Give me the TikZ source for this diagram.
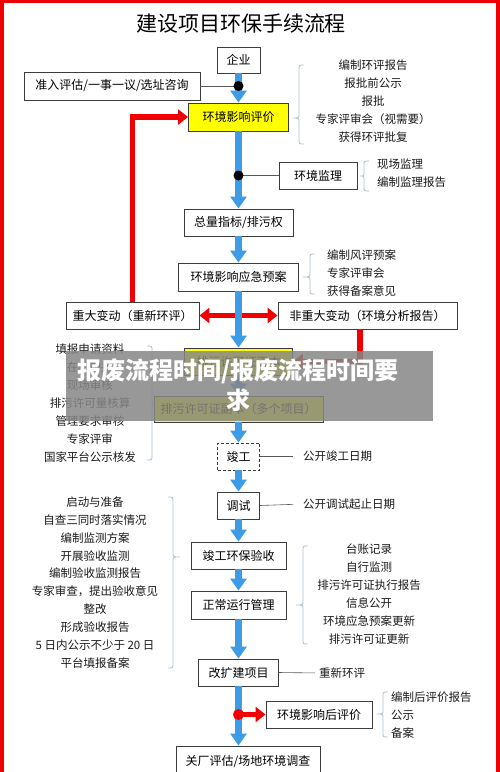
\documentclass[tikz,border=0pt]{standalone}
\usepackage{fontspec}
\newfontfamily\cjk{Noto Sans CJK SC}
\usetikzlibrary{arrows.meta}
\definecolor{flowblue}{RGB}{62,155,230}
\definecolor{flowred}{RGB}{240,0,0}
\definecolor{boxyellow}{RGB}{255,255,0}
\definecolor{bracegray}{RGB}{170,192,208}
\definecolor{boxedge}{RGB}{60,60,60}
\definecolor{bannergray}{RGB}{135,135,135}
\newcommand\openbrace[5]{%
 \draw[brc] ({#1+5},#2) .. controls (#1,#2) .. (#1,{#2+5}) -- (#1,{#4-5}) .. controls (#1,#4) .. (#5,#4) .. controls (#1,#4) .. (#1,{#4+5}) -- (#1,{#3-5}) .. controls (#1,#3) .. ({#1+5},#3);}
\newcommand\closebrace[5]{%
 \draw[brc] ({#1-5},#2) .. controls (#1,#2) .. (#1,{#2+5}) -- (#1,{#4-5}) .. controls (#1,#4) .. (#5,#4) .. controls (#1,#4) .. (#1,{#4+5}) -- (#1,{#3-5}) .. controls (#1,#3) .. ({#1-5},#3);}
\begin{document}
\begin{tikzpicture}[x=1pt,y=-1pt,
 box/.style={draw=boxedge, line width=0.9pt, fill=white, inner sep=0pt, font=\cjk\fontsize{12}{14}\selectfont, text=black},
 ybox/.style={box, fill=boxyellow},
 flow/.style={draw=flowblue, line width=7pt, -{Triangle[width=16pt,length=12pt]}},
 redflow/.style={draw=flowred, line width=5.5pt, -{Triangle[width=15pt,length=10pt]}},
 redboth/.style={draw=flowred, line width=5.5pt, {Triangle[width=15pt,length=10pt]}-{Triangle[width=15pt,length=10pt]}},
 link/.style={draw=black!65, line width=0.6pt},
 dot/.style={circle, fill=black, inner sep=0pt, minimum size=10pt},
 reddot/.style={circle, fill=flowred, inner sep=0pt, minimum size=11pt},
 listtxt/.style={font=\cjk\fontsize{11.5}{17.9}\selectfont, inner sep=0pt, text=black!90},
 brc/.style={draw=bracegray, line width=0.8pt}]
\useasboundingbox (0,0) rectangle (500,772);
\fill[white] (0,0) rectangle (500,772);
% frame
\fill[flowred] (0,0) rectangle (4,772);
\fill[flowred] (0,0) rectangle (500,3);
\fill[flowred] (496,0) rectangle (500,772);
% title
\node[font=\cjk\fontsize{21}{24}\selectfont] (title) at (241,24) {建设项目环保手续流程};
% boxes
\node[box, minimum width=43pt, minimum height=26pt] (qy) at (238.5,60) {企业};
\node[box, minimum width=176pt, minimum height=28pt] (zr) at (112,86) {准入评估/一事一议/选址咨询};
\node[ybox, minimum width=100pt, minimum height=28pt] (hp) at (238.5,117) {环境影响评价};
\node[box, minimum width=78pt, minimum height=27pt] (jl) at (318,175.5) {环境监理};
\node[box, minimum width=109pt, minimum height=27pt] (zl) at (238.5,222.5) {总量指标/排污权};
\node[box, minimum width=120pt, minimum height=28pt] (yj) at (238.5,277) {环境影响应急预案};
\node[box, minimum width=133pt, minimum height=27pt] (zd) at (132.5,315.5) {重大变动（重新环评）};
\node[box, minimum width=179pt, minimum height=27pt] (fz) at (367.5,315.5) {非重大变动（环境分析报告）};
\node[ybox, minimum width=108pt, minimum height=27pt] (zb) at (238.5,361.5) {排污许可证正本};
\node[ybox, minimum width=169pt, minimum height=26pt] (fb) at (238.5,409) {排污许可证副本（多个项目）};
\node[box, dash pattern=on 3pt off 2pt, minimum width=42pt, minimum height=27pt] (jg) at (238.5,456.5) {竣工};
\node[box, minimum width=42pt, minimum height=27pt] (ts) at (238.5,505.5) {调试};
\node[box, minimum width=95pt, minimum height=27pt] (ys) at (238.5,555.5) {竣工环保验收};
\node[box, minimum width=95pt, minimum height=28pt] (yx) at (238.5,605) {正常运行管理};
\node[box, minimum width=80pt, minimum height=27pt] (gk) at (238.5,672.5) {改扩建项目};
\node[box, minimum width=106pt, minimum height=27pt] (hh) at (319,714.5) {环境影响后评价};
\node[box, minimum width=144pt, minimum height=30pt] (gc) at (248,761) {关厂评估/场地环境调查};
% side texts
\node[listtxt, align=center] (l1) at (373,101) {编制环评报告\\报批前公示\\报批\\专家评审会（视需要）\\获得环评批复};
\node[listtxt, align=left, anchor=west] (l2) at (377,173) {现场监理\\编制监理报告};
\node[listtxt, align=left, anchor=west] (l3) at (327,273) {编制风评预案\\专家评审会\\获得备案意见};
\node[listtxt, align=center] (l4) at (90,403) {填报申请资料\\在线申报\\现场审核\\排污许可量核算\\管理要求审核\\专家评审\\国家平台公示核发};
\node[listtxt, align=center] (l5) at (95,582.5) {启动与准备\\自查三同时落实情况\\编制监测方案\\开展验收监测\\编制验收监测报告\\专家审查，提出验收意见\\整改\\形成验收报告\\5 日内公示不少于 20 日\\平台填报备案};
\node[listtxt, align=center] (l6) at (369,594) {台账记录\\自行监测\\排污许可证执行报告\\信息公开\\环境应急预案更新\\排污许可证更新};
\node[listtxt, align=left, anchor=west] (l7) at (391,715) {编制后评价报告\\公示\\备案};
\node[listtxt, anchor=west] (t1) at (303,456.5) {公开竣工日期};
\node[listtxt, anchor=west] (t2) at (303,504) {公开调试起止日期};
\node[listtxt, anchor=west] (t3) at (319,673) {重新环评};
% braces
\openbrace{299}{65}{144}{118}{293}
\openbrace{364}{161}{191}{176}{360}
\openbrace{310}{254}{294}{277}{303}
\closebrace{152}{346}{460}{403}{157}
\closebrace{173}{497}{668}{557}{180}
\openbrace{303}{546}{644}{605}{296}
\openbrace{383}{692}{737}{714}{377}
% thin links
\coordinate (d1) at (238.5,86);
\coordinate (d2) at (238.5,175.5);
\draw[link] (zr.east) -- (d1);
\draw[link] (jl.west) -- (d2);
\draw[link, shorten >=10pt] (jg.east) -- (t1.west);
\draw[link, shorten >=10pt] (ts.east) -- (t2.west);
\draw[link, shorten >=4pt] (gk.east) -- (t3.west);
% red connectors
\coordinate (fzr) at (360,0);
\draw[redflow] (zd.north) |- (hp.west);
\draw[redboth] (zd.east) -- (fz.west);
\draw[redflow] (fz.south -| fzr) |- (zb.east);
% blue flow
\draw[flow] (qy.south) -- (hp.north);
\draw[flow] (hp.south) -- (zl.north);
\draw[flow] (zl.south) -- (yj.north);
\draw[flow] (yj.south) -- (zb.north);
\draw[flow] (zb.south) -- (fb.north);
\draw[flow] (fb.south) -- (jg.north);
\draw[flow] (jg.south) -- (ts.north);
\draw[flow] (ts.south) -- (ys.north);
\draw[flow] (ys.south) -- (yx.north);
\draw[flow] (yx.south) -- (gk.north);
\draw[flow] (gk.south) -- (gk.south |- gc.north);
% dots
\node[dot] (dot1) at (d1) {};
\node[dot] (dot2) at (d2) {};
\node[reddot] (rd) at (238.5,714.5) {};
\draw[redflow] (rd.center) -- (hh.west);
% banner
\fill[bannergray, opacity=0.85] (66,351) rectangle (433,421);
\node[font=\cjk\bfseries\fontsize{24}{30}\selectfont, text=white, align=center] (banner) at (238,385) {报废流程时间/报废流程时间要\\求};
\end{tikzpicture}
\end{document}
